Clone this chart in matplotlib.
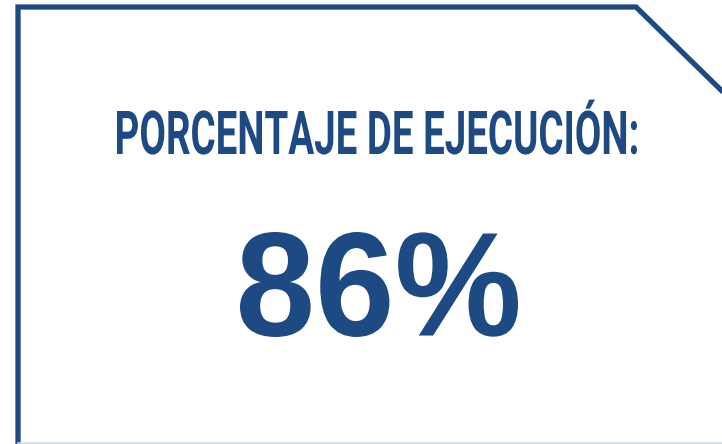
import matplotlib
matplotlib.use('Agg')
import matplotlib.pyplot as plt
from matplotlib.textpath import TextPath
from matplotlib.font_manager import FontProperties
from matplotlib.patches import PathPatch
from matplotlib.transforms import Affine2D

# data
title = 'PORCENTAJE DE EJECUCIÓN:'
value = 86
value_label = f'{value}%'

blue = '#1d4a82'
W, H = 722, 444

fig = plt.figure(figsize=(W / 100, H / 100), dpi=100)
ax = fig.add_axes([0, 0, 1, 1])
ax.set_xlim(0, W)
ax.set_ylim(H, 0)
ax.axis('off')

# frame with cut corner
ax.plot([18, 18, 636, 724], [446, 7, 7, 93], color=blue, lw=3.8,
        solid_joinstyle='miter', solid_capstyle='butt')
ax.plot([18, W], [442.5, 442.5], color='#d3dae3', lw=1.2)


def fit_text(s, fp, x0, x1, ytop, ybot, ref):
    # draw text as path, stretched to a box (cap height from ref glyph)
    tp = TextPath((0, 0), s, prop=fp, size=100)
    rp = TextPath((0, 0), ref, prop=fp, size=100)
    ext = tp.get_extents()
    rext = rp.get_extents()
    sx = (x1 - x0) / ext.width
    sy = (ybot - ytop) / rext.height
    tr = Affine2D().translate(-ext.x0, -rext.y0).scale(sx, -sy).translate(x0, ybot)
    ax.add_patch(PathPatch(tr.transform_path(tp), color=blue, lw=0))


fit_text(title, FontProperties(family='Roboto', weight='bold'),
         117, 637, 111, 154, 'P')
fit_text(value_label, FontProperties(family='Liberation Sans', weight='bold'),
         240, 518, 232, 337, '8')

fig.savefig('out.png', dpi=100)
